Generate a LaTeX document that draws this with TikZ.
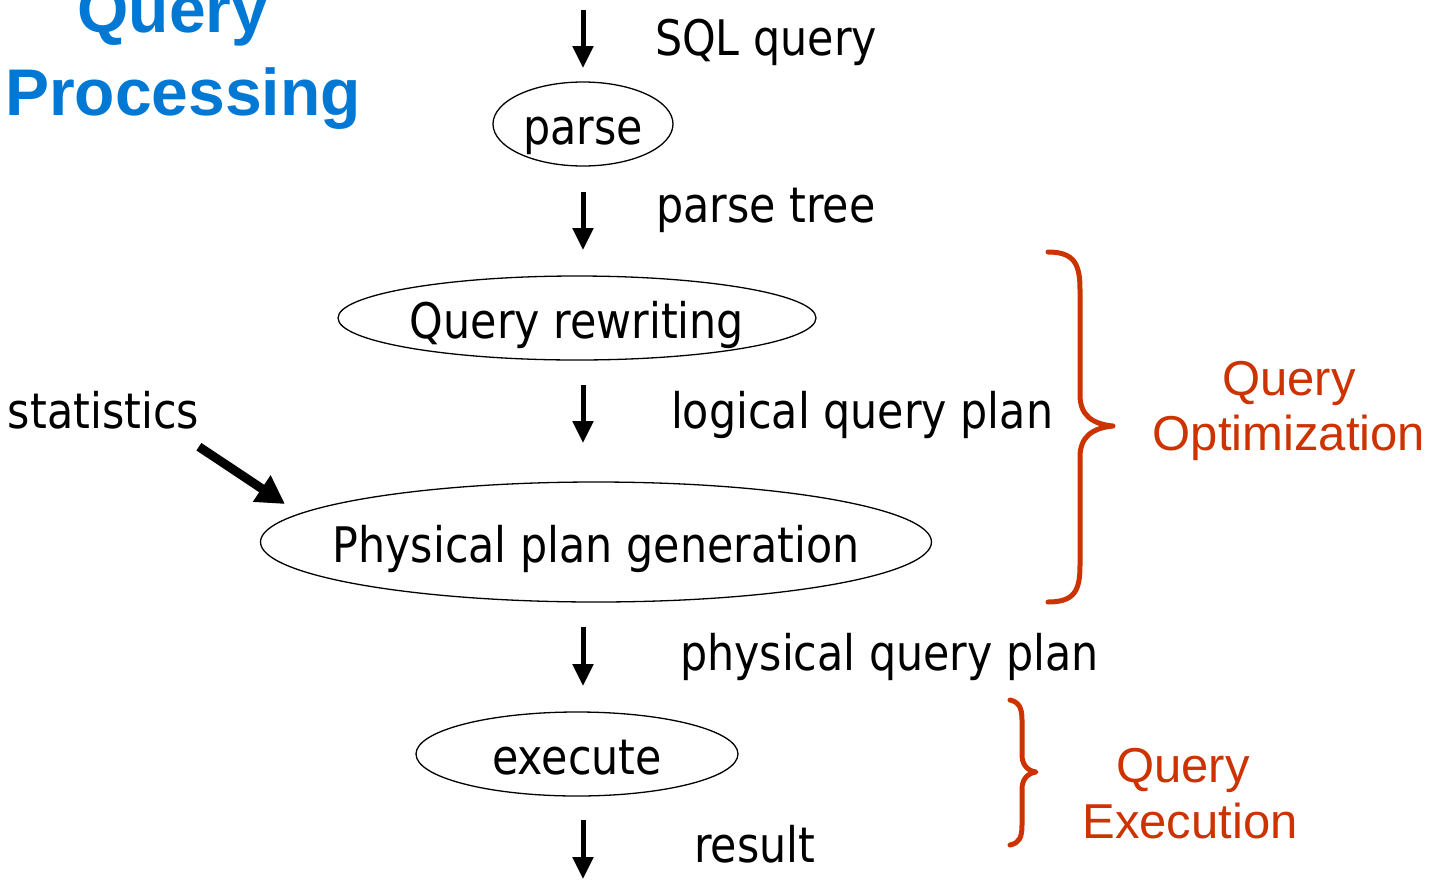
\documentclass[tikz,border=0pt]{standalone}
\usepackage{fontspec}
\setmainfont{DejaVu Sans}[FakeStretch=0.874]
\newfontfamily\arialfont{Liberation Sans}
\usetikzlibrary{arrows.meta,shapes.geometric}
\definecolor{titleblue}{RGB}{0,120,212}
\definecolor{bracered}{RGB}{204,51,0}
\begin{document}
\begin{tikzpicture}[x=1pt,y=-1pt,
  every node/.style={inner sep=0pt, outer sep=0pt},
  txt/.style={font=\fontsize{49}{58}\selectfont, anchor=base west},
  proc/.style={draw, ellipse, line width=1.3pt, font=\fontsize{49}{58}\selectfont,
    text height=40pt, text depth=0pt},
  flow/.style={line width=5pt, -{Triangle[length=22pt,width=20pt]}},
  statflow/.style={line width=9pt, -{Triangle[length=28pt,width=30pt]}},
  redtxt/.style={font=\arialfont\fontsize{49}{58}\selectfont, text=bracered, anchor=base},
  titletxt/.style={font=\arialfont\bfseries\fontsize{66}{78}\selectfont, text=titleblue, anchor=base},
  bracestyle/.style={draw=bracered, line width=5pt, line cap=round, line join=round}]
\useasboundingbox (0,0) rectangle (1441,879);

% title
\node[titletxt] (t1) at (173,32) {Query};
\node[titletxt] (t2) at (183,115) {Processing};

% process ellipses
\node[proc, minimum width=180pt, minimum height=84pt] (parse) at (583,124) {\makebox[0pt]{parse}};
\node[proc, minimum width=478pt, minimum height=84pt] (rewrite) at (577,318) {\makebox[0pt]{Query rewriting}};
\node[proc, minimum width=671pt, minimum height=120pt] (phys) at (596,542) {\makebox[0pt]{Physical plan generation}};
\node[proc, minimum width=322pt, minimum height=84pt] (exec) at (577,754) {\makebox[0pt]{execute}};

% labels
\node[txt] (lsql) at (655,55) {SQL query};
\node[txt] (ltree) at (656,222) {parse tree};
\node[txt] (llog) at (671,428) {logical query plan};
\node[txt] (lstat) at (8,428) {statistics};
\node[txt] (lphys) at (680,670) {physical query plan};
\node[txt] (lres) at (694,862) {result};

% connectors
\coordinate (in) at (583,10);
\coordinate (out) at (583,879);
\coordinate (stattip) at (285,504);
\draw[flow, shorten >=14pt] (in) -- (parse.north);
\draw[flow, shorten <=26pt, shorten >=26pt] (parse.south) -- (parse.south |- rewrite.north);
\draw[flow, shorten <=25pt, shorten >=39pt] (parse.south |- rewrite.south) -- (parse.south |- phys.north);
\draw[flow, shorten <=25pt, shorten >=26pt] (parse.south |- phys.south) -- (parse.south |- exec.north);
\draw[flow, shorten <=24pt] (parse.south |- exec.south) -- (out);
\draw[statflow] ([yshift=-18pt]lstat.south east) -- (stattip);

% braces
\draw[bracestyle] (1048,252) .. controls (1075,252) and (1080,265) .. (1080,290)
  -- (1080,395) .. controls (1080,415) and (1092,424) .. (1113,426)
  .. controls (1092,428) and (1080,437) .. (1080,457)
  -- (1080,565) .. controls (1080,590) and (1075,602) .. (1048,602);
\draw[bracestyle] (1010,700) .. controls (1019,702) and (1022,708) .. (1022,720)
  -- (1022,755) .. controls (1022,765) and (1028,771) .. (1036,772)
  .. controls (1028,773) and (1022,779) .. (1022,789)
  -- (1022,825) .. controls (1022,838) and (1019,843) .. (1010,845);

\node[redtxt] (o1) at (1289,395) {Query};
\node[redtxt] (o2) at (1289,450) {Optimization};
\node[redtxt] (e1) at (1183,782) {Query};
\node[redtxt] (e2) at (1190,838) {Execution};
\end{tikzpicture}
\end{document}
